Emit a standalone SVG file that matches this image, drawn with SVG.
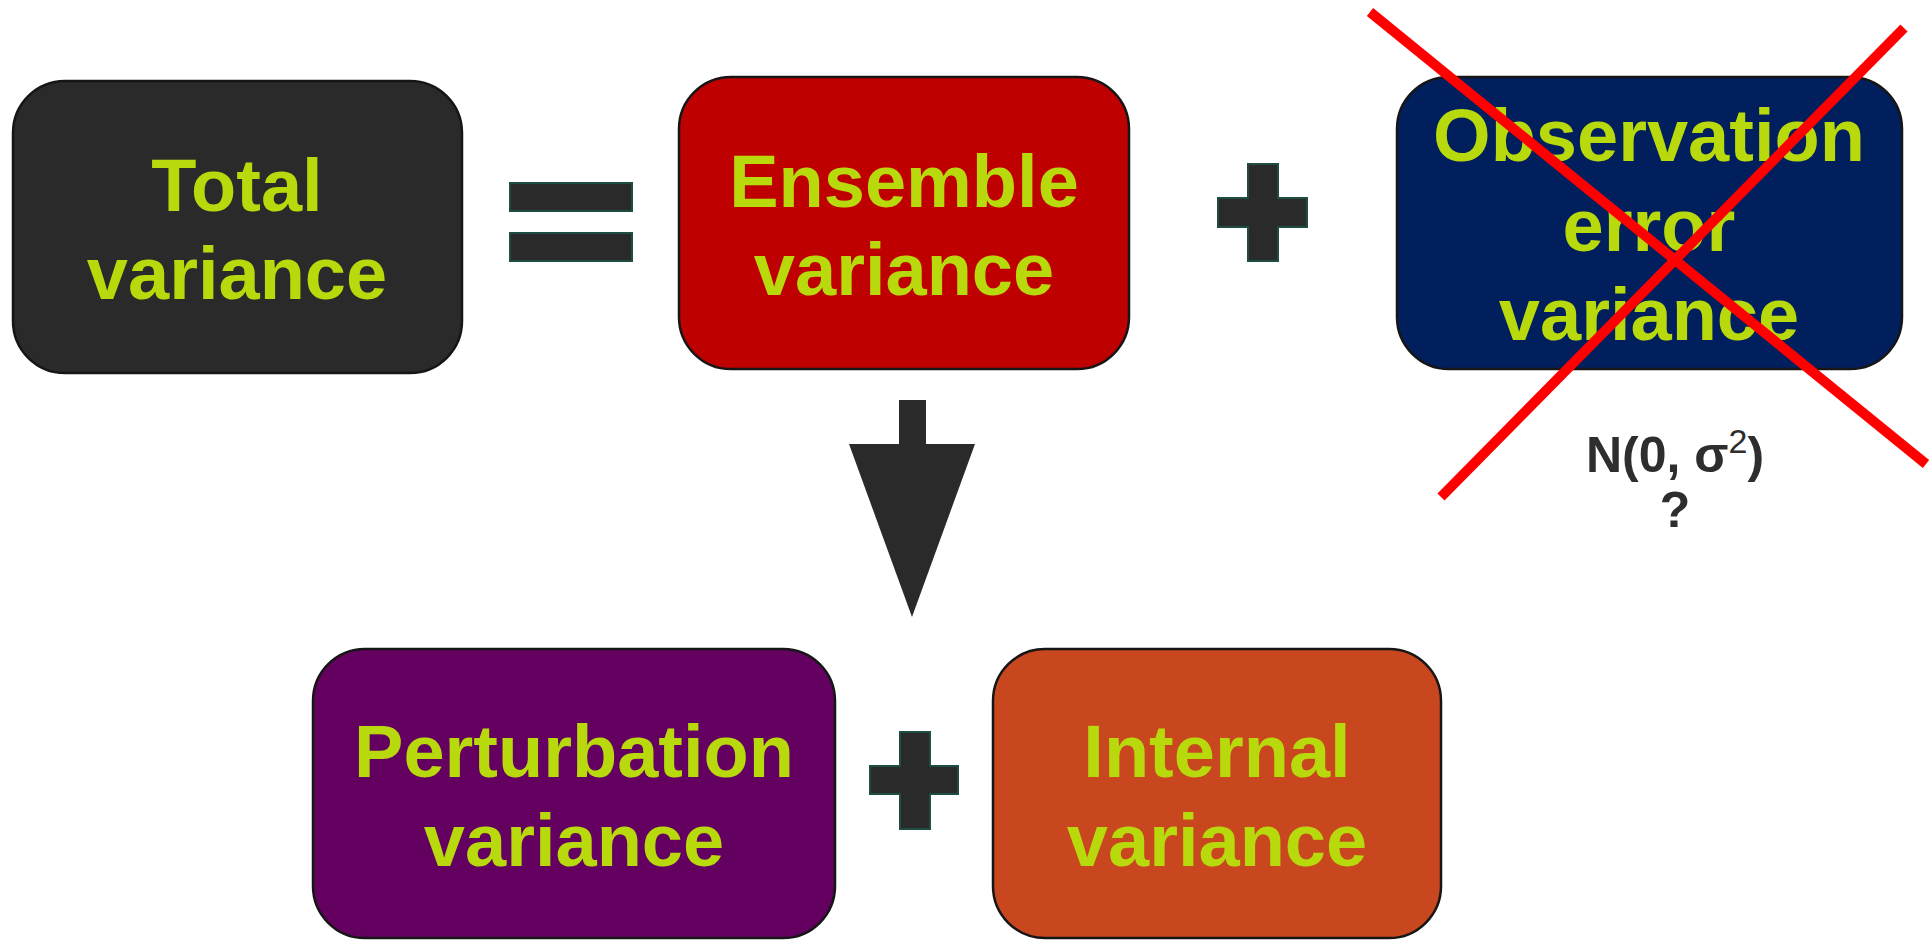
<svg xmlns="http://www.w3.org/2000/svg" width="1931" height="940" viewBox="0 0 1931 940">
<style>
.box{stroke:#161616;stroke-width:2.5}
.lbl{font-family:"Liberation Sans",Arial,sans-serif;font-weight:bold;font-size:74px;fill:#b8d90b;text-anchor:middle}
.op{fill:#2a2a2a;stroke:#1f4d43;stroke-width:2}
.note{font-family:"Liberation Sans",Arial,sans-serif;font-weight:bold;font-size:50px;fill:#2e2e2e;text-anchor:middle}
.cross{stroke:#ff0000;stroke-width:10;fill:none}
</style>
<rect width="1931" height="940" fill="#ffffff"/>
<g id="total">
<rect class="box" x="13" y="81" width="449" height="292" rx="52" fill="#2a2a2a"/>
<text class="lbl" x="237" y="211">Total</text>
<text class="lbl" x="237" y="299">variance</text>
</g>
<g id="ensemble">
<rect class="box" x="679" y="77" width="450" height="292" rx="52" fill="#bf0000"/>
<text class="lbl" x="904" y="207">Ensemble</text>
<text class="lbl" x="904" y="295">variance</text>
</g>
<g id="observation">
<rect class="box" x="1397" y="77" width="505" height="292" rx="52" fill="#001f5c"/>
<text class="lbl" x="1649" y="161">Observation</text>
<text class="lbl" x="1649" y="251">error</text>
<text class="lbl" x="1649" y="340">variance</text>
</g>
<g id="perturbation">
<rect class="box" x="313" y="649" width="522" height="289" rx="52" fill="#640060"/>
<text class="lbl" x="574" y="777">Perturbation</text>
<text class="lbl" x="574" y="866">variance</text>
</g>
<g id="internal">
<rect class="box" x="993" y="649" width="448" height="289" rx="52" fill="#c8471f"/>
<text class="lbl" x="1217" y="777">Internal</text>
<text class="lbl" x="1217" y="866">variance</text>
</g>
<g id="connectors">
<g id="equals">
<rect class="op" x="510" y="183" width="122" height="28"/>
<rect class="op" x="510" y="233" width="122" height="28"/>
</g>
<path id="plus-top" class="op" d="M1248,164 H1278 V198 H1307 V227 H1278 V261 H1248 V227 H1218 V198 H1248 Z"/>
<path id="plus-bottom" class="op" d="M900,732 H930 V766 H958 V794 H930 V829 H900 V794 H870 V766 H900 Z"/>
<path id="arrow-down" d="M899,400 H926 V444 H975 L912,617 L849,444 H899 Z" fill="#2a2a2a"/>
</g>
<g id="note">
<text class="note" x="1675" y="472">N(0, σ<tspan dy="-19" font-size="34" font-weight="normal">2</tspan><tspan dy="19">)</tspan></text>
<text class="note" x="1675" y="527">?</text>
</g>
<g id="strike">
<line class="cross" x1="1370" y1="12" x2="1926" y2="464"/>
<line class="cross" x1="1904" y1="28" x2="1441" y2="497"/>
</g>
</svg>
